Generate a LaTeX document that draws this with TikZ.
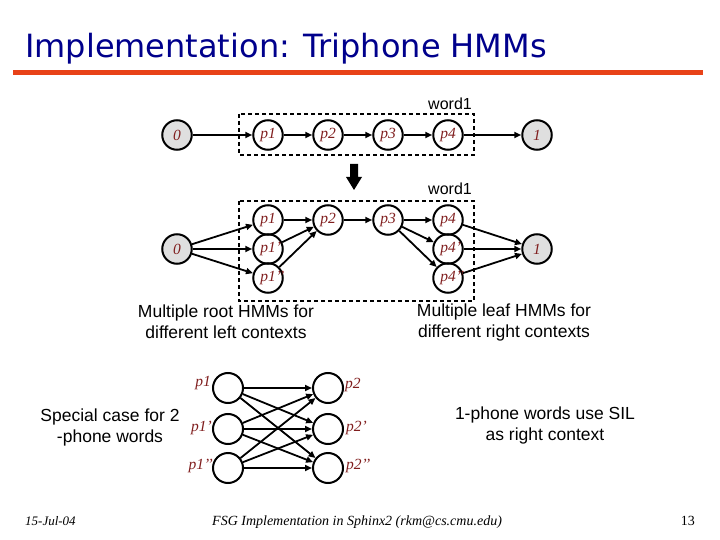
\documentclass[tikz,border=0pt]{standalone}
\usepackage{fontspec}
\usepackage{graphicx}
\setmainfont{Liberation Serif}
\setsansfont{Liberation Sans}
\newfontfamily\titlefont{DejaVu Sans}
\usetikzlibrary{arrows.meta}
\definecolor{lab}{RGB}{128,30,30}
\definecolor{titleblue}{RGB}{0,0,140}
\definecolor{barorange}{RGB}{232,66,24}
\begin{document}
\begin{tikzpicture}[x=1pt,y=-1pt,
  st/.style={circle,draw,line width=2pt,minimum size=29.5pt,inner sep=0pt,
    font=\itshape\fontsize{15.5}{15.5}\selectfont,text=lab},
  term/.style={st,fill=gray!25},
  emp/.style={circle,draw,line width=2pt,minimum size=30pt,inner sep=0pt},
  arr/.style={line width=1.8pt,-{Triangle[length=7pt,width=6pt]}},
  wbox/.style={line width=1.6pt,dash pattern=on 4pt off 3pt},
  sans/.style={font=\sffamily\fontsize{17.5}{21}\selectfont,align=center},
  lbl/.style={font=\itshape\fontsize{15.5}{15.5}\selectfont,text=lab,inner sep=0pt},
  foot/.style={font=\itshape\fontsize{13}{13}\selectfont,inner sep=0pt}]
\useasboundingbox (0,0) rectangle (720,540);

% title
\node[anchor=base west,inner sep=0pt,text=titleblue,font=\titlefont\fontsize{32}{32}\selectfont] (title) at (25,58) {Implementation: Triphone HMMs};
\fill[barorange] (13,70) rectangle (703,75);

% top row
\draw[wbox] (239,114) rectangle (474,155);
\node[anchor=base east,inner sep=0pt,font=\sffamily\fontsize{16}{16}\selectfont] (w1) at (472,110) {word1};
\node[term] (t0) at (177,135) {0};
\node[st] (tp1) at (268,135) {p1};
\node[st] (tp2) at (328,135) {p2};
\node[st] (tp3) at (388,135) {p3};
\node[st] (tp4) at (448,135) {p4};
\node[term] (t1) at (537,135) {1};
\draw[arr] (t0) -- (tp1);
\draw[arr] (tp1) -- (tp2);
\draw[arr] (tp2) -- (tp3);
\draw[arr] (tp3) -- (tp4);
\draw[arr] (tp4) -- (t1);

% down arrow
\fill (350,164) -- (358,164) -- (358,177) -- (362,177) -- (354,190) -- (346,177) -- (350,177) -- cycle;

% middle
\draw[wbox] (239,201) rectangle (474,301);
\node[anchor=base east,inner sep=0pt,font=\sffamily\fontsize{16}{16}\selectfont] (w2) at (472,195) {word1};
\node[term] (m0) at (177,249) {0};
\node[st] (a1) at (268,220) {p1};
\node[st] (a2) at (268,249) {p1\rlap{’}};
\node[st] (a3) at (268,278) {p1\rlap{’’}};
\node[st] (mp2) at (328,220) {p2};
\node[st] (mp3) at (388,220) {p3};
\node[st] (b1) at (448,220) {p4};
\node[st] (b2) at (448,249) {p4\rlap{’}};
\node[st] (b3) at (448,278) {p4\rlap{’’}};
\node[term] (m1) at (537,249) {1};
\foreach \n in {a1,a2,a3}{\draw[arr] (m0) -- (\n); \draw[arr] (\n) -- (mp2);}
\draw[arr] (mp2) -- (mp3);
\foreach \n in {b1,b2,b3}{\draw[arr] (mp3) -- (\n); \draw[arr] (\n) -- (m1);}

\node[sans] (rootTxt) at (226,322) {Multiple root HMMs for\\different left contexts};
\node[sans] (leafTxt) at (504,322) {Multiple leaf HMMs for\\different right contexts};

% bottom
\node[emp] (l1) at (228,388) {};
\node[emp] (l2) at (228,429) {};
\node[emp] (l3) at (228,468) {};
\node[emp] (r1) at (328,388) {};
\node[emp] (r2) at (328,429) {};
\node[emp] (r3) at (328,468) {};
\node[lbl,anchor=east] (ll1) at (211,383) {p1};
\node[lbl,anchor=east] (ll2) at (212,428) {p1’};
\node[lbl,anchor=east] (ll3) at (213,466) {p1’’};
\node[lbl,anchor=west] (rl1) at (345,385) {p2};
\node[lbl,anchor=west] (rl2) at (346,428) {p2’};
\node[lbl,anchor=west] (rl3) at (346,466) {p2’’};
\foreach \a in {l1,l2,l3}{\foreach \b in {r1,r2,r3}{\draw[arr] (\a) -- (\b);}}

\node[sans] (spTxt) at (110,427) {Special case for 2\\-phone words};
\node[sans] (silTxt) at (545,425) {1-phone words use SIL\\as right context};

% footer
\node[foot,anchor=base west] (date) at (25,525) {15-Jul-04};
\node[foot,anchor=base west,font=\itshape\fontsize{14}{14}\selectfont] (ftxt) at (212,525) {FSG Implementation in Sphinx2 (rkm@cs.cmu.edu)};
\node[foot,anchor=base east,font=\fontsize{14}{14}\selectfont] (pg) at (695,525) {13};
\end{tikzpicture}
\end{document}
